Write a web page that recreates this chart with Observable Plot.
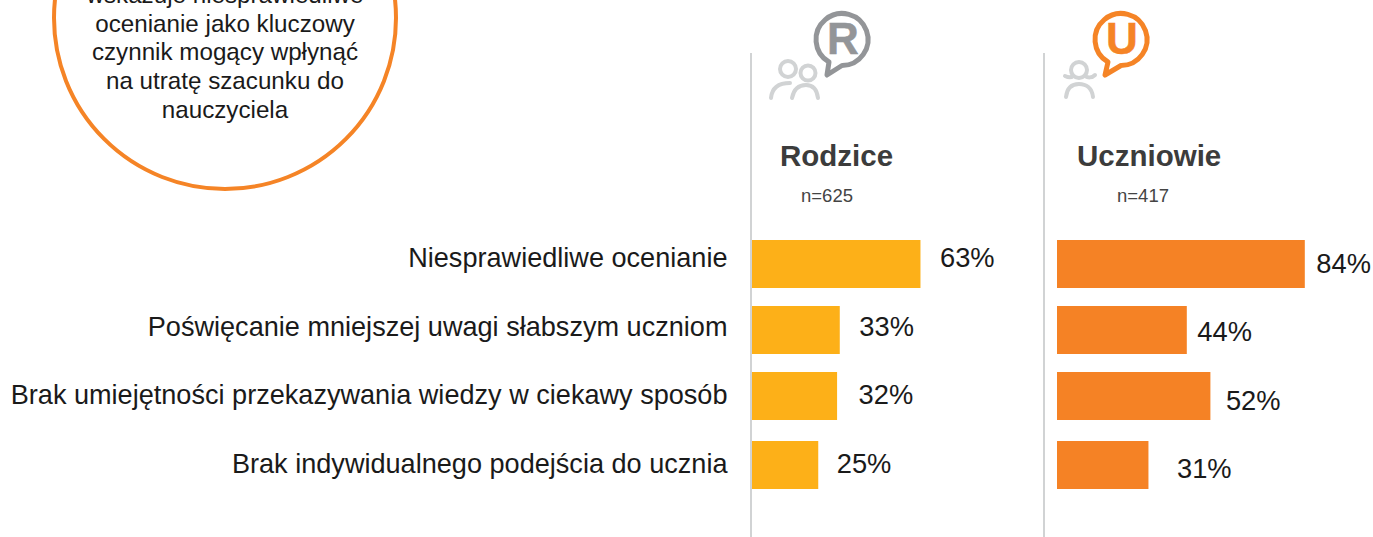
<!DOCTYPE html>
<html lang="pl">
<head>
<meta charset="utf-8">
<script src="https://cdn.jsdelivr.net/npm/d3@7"></script>
<script src="https://cdn.jsdelivr.net/npm/@observablehq/plot@0.6"></script>
<style>
html,body{margin:0;padding:0;background:#fff;}
body{position:relative;width:1373px;height:537px;overflow:hidden;font-family:"Liberation Sans",Arial,sans-serif;}
.abs{position:absolute;white-space:nowrap;}
svg.plot{position:absolute;left:0;top:0;background:transparent;}
.head{font-weight:bold;font-size:29.5px;color:#3c3c3c;line-height:32px;}
.n{font-size:18.5px;color:#444;line-height:20px;}
#circle{position:absolute;left:52px;top:-155px;width:338px;height:338px;border:4px solid #f58426;border-radius:50%;}
#ctext{position:absolute;left:52px;top:-19px;width:346px;text-align:center;font-size:24.2px;line-height:28.7px;color:#1a1a1a;}
</style>
</head>
<body>
<div id="circle"></div>
<div id="ctext">wskazuje niesprawiedliwe<br>ocenianie jako kluczowy<br>czynnik mogący wpłynąć<br>na utratę szacunku do<br>nauczyciela</div>
<svg class="abs" style="left:0;top:0" width="1373" height="110" viewBox="0 0 1373 110">
  <g fill="none" stroke="#939598" stroke-width="5" stroke-linejoin="round" stroke-linecap="round">
    <path d="M829 62 A26 26 0 1 1 842 65.5 L827 75 Z"/>
  </g>
  <text x="843" y="54" text-anchor="middle" font-family="Liberation Sans" font-weight="bold" font-size="44" stroke="#939598" stroke-width="0.5" fill="#939598">R</text>
  <g fill="none" stroke="#d1d3d4" stroke-width="4" stroke-linecap="round">
    <circle cx="788" cy="69" r="8"/><circle cx="808" cy="73" r="7.5"/>
    <path d="M771 98 C772 87 780 83 790 83"/><path d="M792 98 C794 88 800 85 806 85 C814 85 817 90 818 98"/>
    <circle cx="1079" cy="70" r="8"/><path d="M1065 76 C1069 78 1071 78 1073 76 M1085 76 C1088 78 1092 78 1095 75"/>
    <path d="M1066 97 C1067 88 1072 84 1079 84 C1086 84 1092 88 1093 97"/>
  </g>
  <g fill="none" stroke="#f58426" stroke-width="5" stroke-linejoin="round" stroke-linecap="round">
    <path d="M1108 62 A26 26 0 1 1 1121 65.5 L1105 75 Z"/>
  </g>
  <text x="1122" y="54" text-anchor="middle" font-family="Liberation Sans" font-weight="bold" font-size="44" stroke="#f58426" stroke-width="0.5" fill="#f58426">U</text>
</svg>
<div class="abs head" style="left:780px;top:140px">Rodzice</div>
<div class="abs n" style="left:801px;top:186px">n=625</div>
<div class="abs head" style="left:1077px;top:140px">Uczniowie</div>
<div class="abs n" style="left:1117px;top:186px">n=417</div>
<script>
const categories = ["Niesprawiedliwe ocenianie","Poświęcanie mniejszej uwagi słabszym uczniom","Brak umiejętności przekazywania wiedzy w ciekawy sposób","Brak indywidualnego podejścia do ucznia"];
const rodzice = [63,33,32,25];
const uczniowie = [84,44,52,31];

// Layout only: the reference nudges each row and label by hand.
const rowDy = [0,0,0,3];
const nudgeParents = [[19,-6],[19,-3],[21,-1],[18,2]];
const nudgeStudents = [[11,0],[10,2],[15,5],[28,7]];
const font = '"Liberation Sans",Arial,sans-serif';

function panel({values, color, xRange, nudges, withLabels}) {
  const table = categories.map((c,i)=>({c, v:values[i], i}));
  const rowMarks = table.flatMap(d => {
    const [dx,dy] = nudges[d.i];
    return [
      Plot.barX([d],{y:"c",x:"v",fill:color,dy:rowDy[d.i]}),
      Plot.text([d],{y:"c",x:"v",text:r=>r.v+"%",textAnchor:"start",dx,dy,fontSize:27.3,fill:"#1a1a1a",fontFamily:font})
    ];
  });
  const labelMarks = withLabels ? table.map(d => Plot.text([d],{
    y:"c",frameAnchor:"left",text:"c",textAnchor:"end",dx:727,dy:nudges[d.i][1],
    fontSize:27.1,fill:"#1a1a1a",fontFamily:font,lineWidth:100
  })) : [];
  return Plot.plot({
    width:1373,height:537,margin:0,
    style:{background:"transparent",position:"absolute",left:0,top:0,overflow:"visible"},
    x:{domain:[0,100],range:xRange,axis:null},
    y:{domain:categories,range:[240,487],paddingInner:0.275,paddingOuter:0,align:0,axis:null},
    marks:[...rowMarks,...labelMarks]
  });
}
document.body.append(panel({values:rodzice,color:"#fdb018",xRange:[751,1020],nudges:nudgeParents,withLabels:true}));
document.body.append(panel({values:uczniowie,color:"#f58225",xRange:[1057,1352],nudges:nudgeStudents,withLabels:false}));
// vertical separators
for (const left of [750,1043]) {
  const d=document.createElement("div");
  d.style.cssText=`position:absolute;left:${left}px;top:53px;width:2px;height:484px;background:#d1d3d4`;
  document.body.append(d);
}
</script>
</body>
</html>
